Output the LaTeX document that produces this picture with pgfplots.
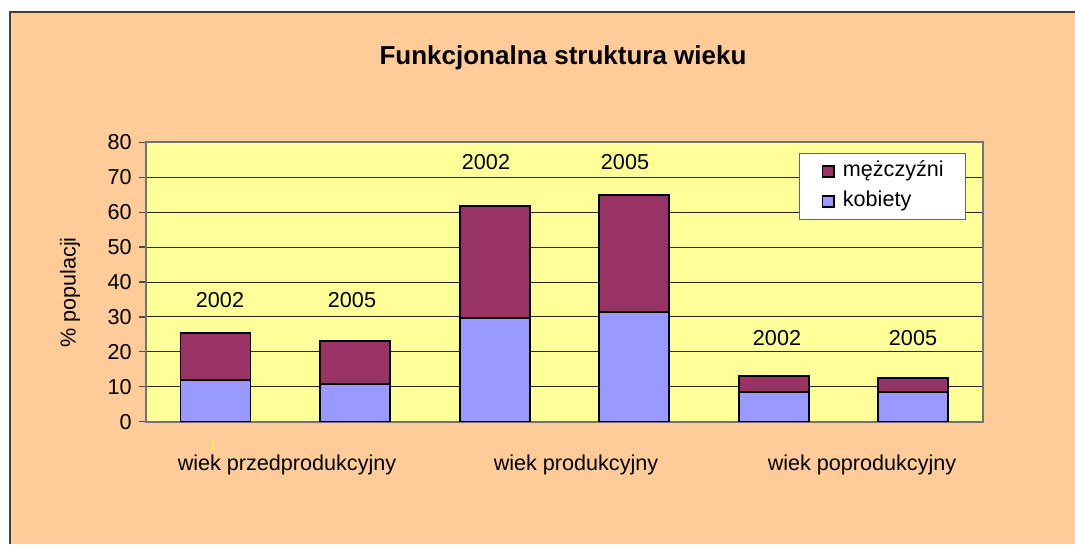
\documentclass[border=0pt]{standalone}
\usepackage{fontspec}
\setmainfont{Liberation Sans}
\usepackage{pgfplots}
\pgfplotsset{compat=1.18}
\definecolor{peach}{HTML}{FFCC99}
\definecolor{plotyellow}{HTML}{FFFF99}
\definecolor{kob}{HTML}{9999FF}
\definecolor{mez}{HTML}{993366}
\newcommand{\lbl}{\fontsize{16.2}{19}\selectfont}
\begin{document}
\begin{tikzpicture}[x=0.75pt,y=0.75pt]
\useasboundingbox (0,0) rectangle (1075,544);
\fill[white] (0,0) rectangle (1075,544);
\fill[peach] (10,0) rectangle (1075,532);
\draw[black!75,line width=1.5pt] (10,0) -- (10,532) -- (1075,532);
\begin{axis}[
  at={(109.275pt,91.725pt)}, anchor=south west,
  scale only axis, width=627.975pt, height=209.55pt,
  xmin=-0.5, xmax=5.5, ymin=0, ymax=80,
  ytick={0,10,...,80}, xtick=\empty,
  ymajorgrids, grid style={black!85, line width=0.7pt},
  axis background/.style={fill=plotyellow},
  axis line style={gray!90!black, line width=1.3pt},
  tick align=outside, major tick length=5pt,
  tick style={gray!60!black, line width=0.9pt},
  ytick pos=left,
  tick label style={font=\lbl},
  yticklabel style={xshift=-2pt},
  /pgf/number format/assume math mode=true,
  ybar stacked, bar width=52.5pt,
  reverse legend,
  legend cell align=left,
  legend image code/.code={\draw[#1,line width=1.3pt,draw=black] (0pt,-4.3pt) rectangle (8.6pt,4.3pt);},
  legend style={at={(0.98,0.962)}, anchor=north east, draw=gray!80!black, line width=0.8pt, fill=white,
    font=\lbl, inner xsep=16.5pt, inner ysep=6pt,
    nodes={inner sep=0pt, text height=11.5pt, text depth=3.5pt},
    /tikz/every odd column/.append style={column sep=6pt},
    row sep=7.5pt},
]
\addplot[fill=kob, draw=black, line width=1.4pt] coordinates {(0,11.9) (1,10.8) (2,29.8) (3,31.4) (4,8.5) (5,8.5)};
\addlegendentry{kobiety}
\addplot[fill=mez, draw=black, line width=1.4pt] coordinates {(0,13.4) (1,12.2) (2,32.0) (3,33.4) (4,4.7) (5,4.1)};
\addlegendentry{mężczyźni}
\end{axis}
% title and labels
\node[font=\fontsize{19.5}{23}\selectfont\bfseries] at (563,486) {Funkcjonalna struktura wieku};
\node[font=\lbl, rotate=90] at (70,251.5) {\% populacji};
\node[font=\lbl] at (220,244) {2002};
\node[font=\lbl] at (352,244) {2005};
\node[font=\lbl] at (486,382.3) {2002};
\node[font=\lbl] at (625,382.3) {2005};
\node[font=\lbl] at (777,206) {2002};
\node[font=\lbl] at (913,206) {2005};
\node[font=\lbl] at (287,79) {wiek przedprodukcyjny};
\node[font=\lbl] at (576,79) {wiek produkcyjny};
\node[font=\lbl] at (862,79) {wiek poprodukcyjny};
\node[font=\fontsize{9}{10}\selectfont, text=yellow!70!white] at (213,99) {1};
\end{tikzpicture}
\end{document}
